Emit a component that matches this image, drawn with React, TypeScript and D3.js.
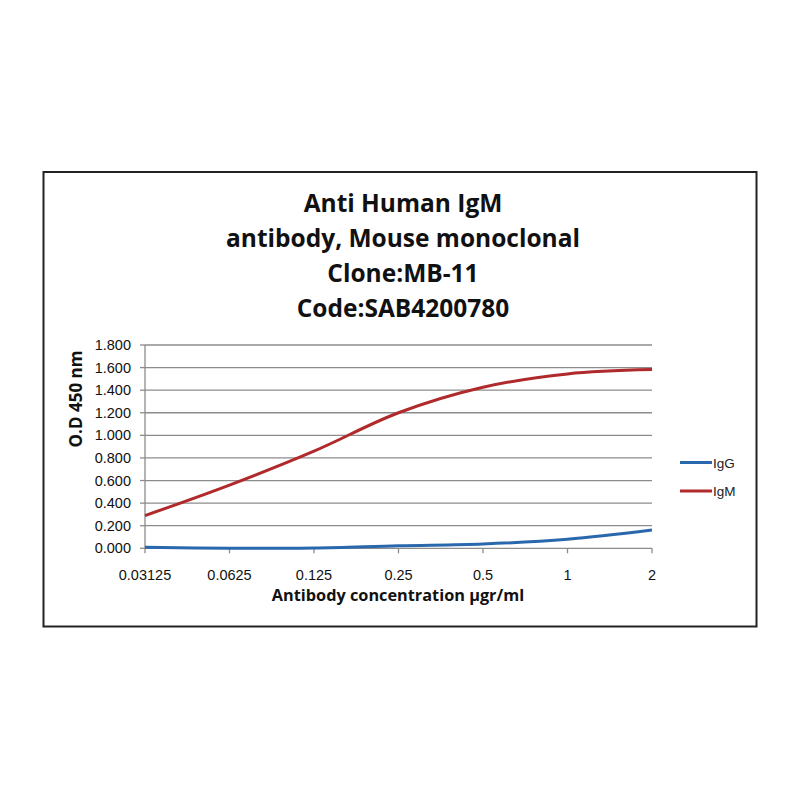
import React from "react";
import * as d3 from "d3";

const concentrations = ["0.03125", "0.0625", "0.125", "0.25", "0.5", "1", "2"];
const igG = [0.01, 0.0, 0.003, 0.023, 0.038, 0.08, 0.162];
const igM = [0.29, 0.56, 0.86, 1.2, 1.426, 1.544, 1.582];
const yTicks = [0, 0.2, 0.4, 0.6, 0.8, 1.0, 1.2, 1.4, 1.6, 1.8];
const titleLines = ["Anti Human IgM", "antibody, Mouse monoclonal", "Clone:MB-11", "Code:SAB4200780"];
const seriesNames = ["IgG", "IgM"];
const seriesColors = ["#2A68AE", "#B0292B"];

export default function App() {
  const left = 145, right = 652, top = 345, bottom = 548.3;
  const x = d3.scalePoint<string>().domain(concentrations).range([left, right]);
  const y = d3.scaleLinear().domain([0, 1.8]).range([bottom, top]);
  const line = d3
    .line<number>()
    .x((_, i) => x(concentrations[i]) as number)
    .y((d) => y(d))
    .curve(d3.curveCatmullRom.alpha(0.5));
  const series = [igG, igM];
  const titleFont = "'Open Sans', 'Noto Sans', sans-serif";
  const axisFont = "'Liberation Sans', Arial, sans-serif";
  const grid = "#8C8C8C";

  return (
    <svg width={800} height={800} style={{ position: "absolute", left: 0, top: 0 }}>
      <rect x={0} y={0} width={800} height={800} fill="#fff" />
      <rect x={43.5} y={172} width={713} height={454.5} fill="#fff" stroke="#222" strokeWidth={2} />
      {titleLines.map((t, i) => (
        <text
          key={t}
          x={403}
          y={212 + i * 35}
          textAnchor="middle"
          fontFamily={titleFont}
          fontWeight="bold"
          fontSize={24.5}
          fill="#111"
        >
          {t}
        </text>
      ))}
      {yTicks.map((v) => (
        <g key={v}>
          {v > 0 && <line x1={left} x2={right} y1={y(v)} y2={y(v)} stroke={grid} strokeWidth={1.3} />}
          <line x1={left - 5} x2={left} y1={y(v)} y2={y(v)} stroke={grid} strokeWidth={1.3} />
          <text
            x={131}
            y={y(v) + 5}
            textAnchor="end"
            fontFamily={axisFont}
            fontSize={14.5}
            fill="#111"
          >
            {d3.format(".3f")(v)}
          </text>
        </g>
      ))}
      <line x1={left} x2={left} y1={top} y2={bottom} stroke={grid} strokeWidth={1.3} />
      <line x1={left} x2={right} y1={bottom} y2={bottom} stroke={grid} strokeWidth={1.3} />
      {concentrations.map((c) => (
        <g key={c}>
          <line x1={x(c)} x2={x(c)} y1={bottom} y2={bottom + 5} stroke={grid} strokeWidth={1.3} />
          <text
            x={x(c)}
            y={580}
            textAnchor="middle"
            fontFamily={axisFont}
            fontSize={14.5}
            fill="#111"
          >
            {c}
          </text>
        </g>
      ))}
      {series.map((s, i) => (
        <path key={i} d={line(s) || ""} fill="none" stroke={seriesColors[i]} strokeWidth={3} strokeLinejoin="round" />
      ))}
      <text
        x={398}
        y={601}
        textAnchor="middle"
        fontFamily={titleFont}
        fontWeight="bold"
        fontSize={16.3}
        fill="#111"
      >
        Antibody concentration µgr/ml
      </text>
      <text
        transform="translate(82,399) rotate(-90)"
        textAnchor="middle"
        fontFamily={titleFont}
        fontWeight="bold"
        fontSize={17}
        fill="#111"
      >
        O.D 450 nm
      </text>
      {seriesNames.map((n, i) => (
        <g key={n}>
          <line x1={680} x2={712} y1={462.5 + i * 28.5} y2={462.5 + i * 28.5} stroke={seriesColors[i]} strokeWidth={3} />
          <text x={713} y={467.5 + i * 28.5} fontFamily={axisFont} fontSize={13.5} fill="#222">
            {n}
          </text>
        </g>
      ))}
    </svg>
  );
}
